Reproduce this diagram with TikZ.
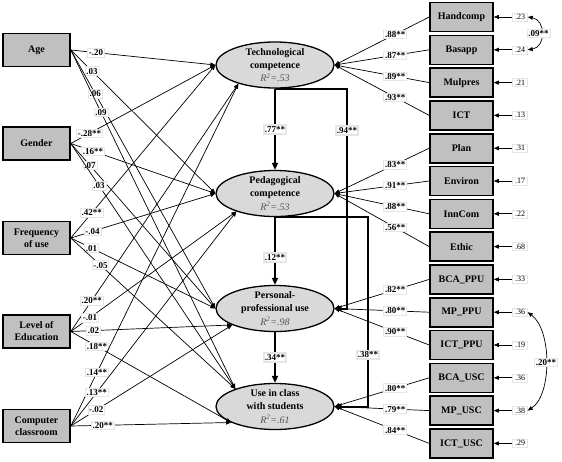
\documentclass[tikz,border=0pt]{standalone}
\usepackage{fontspec}
\setmainfont{Liberation Serif}
\usetikzlibrary{arrows.meta,shapes.geometric}
\definecolor{boxgray}{RGB}{192,192,192}
\definecolor{ellgray}{RGB}{217,217,217}
\definecolor{rtwo}{RGB}{85,85,85}
\newcommand{\myrsq}[1]{{\mdseries\itshape\color{rtwo}R\textsuperscript{2}=#1}}
\begin{document}
\begin{tikzpicture}[x=1pt,y=-1pt,
  obs/.style={draw, line width=1.6pt, fill=boxgray, minimum width=67pt, minimum height=33pt, align=center, inner sep=0pt, font=\fontsize{10}{12}\selectfont\bfseries},
  ind/.style={obs, minimum width=63pt, minimum height=29pt},
  lat/.style={ellipse, draw, line width=1.3pt, fill=ellgray, minimum width=118pt, minimum height=46pt, inner sep=0pt},
  lattext/.style={align=center, inner sep=0pt, font=\fontsize{10}{13.3}\selectfont\bfseries},
  coef/.style={fill=white, draw=black!10, inner sep=1.3pt, font=\fontsize{9}{10}\selectfont\bfseries},
  errlab/.style={fill=white, draw=black!10, inner sep=1.3pt, minimum width=15pt, font=\fontsize{8}{9}\selectfont},
  reg/.style={-{Triangle[length=5pt,width=4pt]}, line width=0.7pt},
  strong/.style={-{Triangle[length=7pt,width=6pt]}, line width=2pt},
  cov/.style={{Triangle[length=5pt,width=4pt]}-{Triangle[length=5pt,width=4pt]}, line width=0.7pt}
]
\useasboundingbox (0,0) rectangle (562,461);

% latent constructs
\node[lat] (tech) at (275,65) {};
\node[lattext] at (tech) {Technological\\competence\\\myrsq{.53}};
\node[lat] (ped) at (275,193.5) {};
\node[lattext] at (ped) {Pedagogical\\competence\\\myrsq{.53}};
\node[lat] (pers) at (275,308.5) {};
\node[lattext] at (pers) {Personal-\\professional use\\\myrsq{.98}};
\node[lat] (use) at (275,406.5) {};
\node[lattext] at (use) {Use in class\\with students\\\myrsq{.61}};

% exogenous variables
\node[obs] (age) at (36.5,50) {Age};
\node[obs] (gender) at (36.5,143.5) {Gender};
\node[obs] (freq) at (36.5,238) {Frequency\\of use};
\node[obs] (edu) at (36.5,331.5) {Level of\\Education};
\node[obs] (comp) at (36.5,426) {Computer\\classroom};

% indicators and errors
\foreach \n/\t/\e [count=\i from 0] in {hc/Handcomp/.23, ba/Basapp/.24, mul/Mulpres/.21, ict/ICT/.13, pl/Plan/.31, en/Environ/.17, inn/InnCom/.22, et/Ethic/.68, bp/BCA\_PPU/.33, mp/MP\_PPU/.36, ip/ICT\_PPU/.19, bu/BCA\_USC/.36, mu/MP\_USC/.38, iu/ICT\_USC/.29}{
  \node[ind] (\n) at (461.5,{17+32.8*\i}) {\t};
  \node[errlab] (e\n) at (520,{17+32.8*\i}) {\e};
  \draw[reg] (e\n) -- (\n);
}

% loadings
\draw[reg] (hc.west) -- (tech.east) node[coef,pos=.36]{.88**};
\draw[reg] (ba.west) -- (tech.east) node[coef,pos=.36]{.87**};
\draw[reg] (mul.west) -- (tech.east) node[coef,pos=.36]{.89**};
\draw[reg] (ict.west) -- (tech.east) node[coef,pos=.36]{.93**};
\draw[reg] (pl.west) -- (ped.east) node[coef,pos=.36]{.83**};
\draw[reg] (en.west) -- (ped.east) node[coef,pos=.36]{.91**};
\draw[reg] (inn.west) -- (ped.east) node[coef,pos=.36]{.88**};
\draw[reg] (et.west) -- (ped.east) node[coef,pos=.36]{.56**};
\draw[reg] (bp.west) -- (pers.east) node[coef,pos=.36]{.82**};
\draw[reg] (mp.west) -- (pers.east) node[coef,pos=.36]{.80**};
\draw[reg] (ip.west) -- (pers.east) node[coef,pos=.36]{.90**};
\draw[reg] (bu.west) -- (use.east) node[coef,pos=.36]{.80**};
\draw[reg] (mu.west) -- (use.east) node[coef,pos=.36]{.79**};
\draw[reg] (iu.west) -- (use.east) node[coef,pos=.36]{.84**};

% error covariances
\draw[cov] (ehc.east) .. controls (546,20) and (546,47) .. (eba.east) node[coef,pos=.5,xshift=-3pt]{.09**};
\draw[cov] (emp.east) .. controls (552,330) and (552,395) .. (emu.east) node[coef,pos=.5]{.20**};

% structural paths
\draw[strong] (tech.south) -- ++(72,0) |- (pers.east) node[coef,pos=.095]{.94**};
\draw[strong] (ped.south) -- ++(93,0) |- (use.east) node[coef,pos=.364]{.38**};
\draw[strong] (tech.south) -- (ped.north) node[coef,midway]{.77**};
\draw[strong] (ped.south) -- (pers.north) node[coef,pos=.6]{.12**};
\draw[strong] (pers.south) -- (use.north) node[coef,midway]{.34**};

% exogenous paths
\draw[reg] (age.east) -- (tech.west) node[coef,pos=.175]{-.20};
\draw[reg] (age.east) -- (ped.west) node[coef,pos=.147]{.03};
\draw[reg] (age.east) -- (pers.west) node[coef,pos=.17]{.06};
\draw[reg] (age.east) -- (use.156) node[coef,pos=.184]{.09};

\draw[reg] (gender.east) -- (tech.west) node[coef,pos=.13]{-.28**};
\draw[reg] (gender.east) -- (ped.west) node[coef,pos=.154]{.16**};
\draw[reg] (gender.east) -- (pers.west) node[coef,pos=.133]{.07};
\draw[reg] (gender.east) -- (use.156) node[coef,pos=.172]{.03};

\draw[reg] (freq.east) -- (tech.west) node[coef,pos=.145]{.42**};
\draw[reg] (freq.east) -- (ped.west) node[coef,pos=.15]{-.04};
\draw[reg] (freq.east) -- (pers.west) node[coef,pos=.143]{.01};
\draw[reg] (freq.east) -- (use.156) node[coef,pos=.18]{-.05};

\draw[reg] (edu.east) -- (tech.207) node[coef,pos=.125]{.20**};
\draw[reg] (edu.east) -- (ped.205) node[coef,pos=.116]{-.01};
\draw[reg] (edu.east) -- (pers.201) node[coef,pos=.14]{.02};
\draw[reg] (edu.east) -- (use.200) node[coef,pos=.163]{.18**};

\draw[reg] (comp.east) -- (tech.207) node[coef,pos=.157]{.14**};
\draw[reg] (comp.east) -- (ped.205) node[coef,pos=.157]{.13**};
\draw[reg] (comp.east) -- (pers.201) node[coef,pos=.158]{-.02};
\draw[reg] (comp.east) -- (use.200) node[coef,pos=.2]{.20**};
\end{tikzpicture}
\end{document}
